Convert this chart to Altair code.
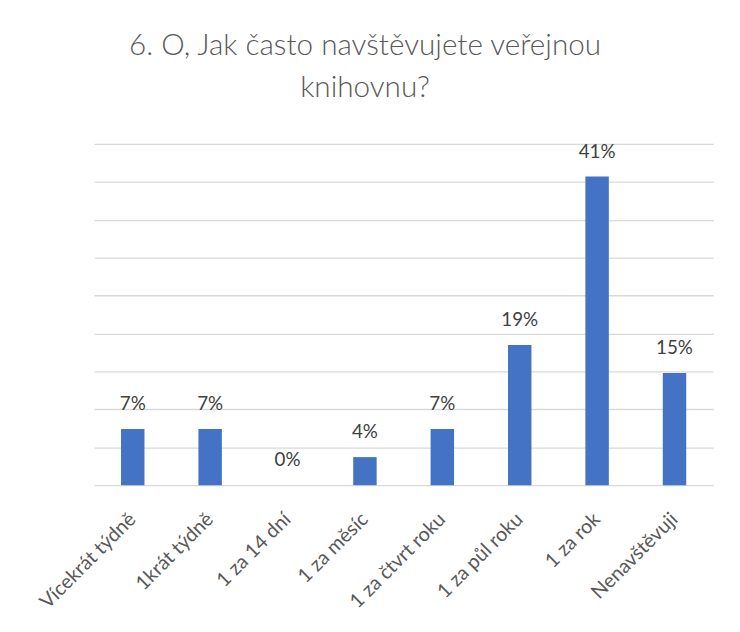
import altair as alt
import pandas as pd

categories = ["Vícekrát týdně", "1krát týdně", "1 za 14 dní", "1 za měsíc",
              "1 za čtvrt roku", "1 za půl roku", "1 za rok", "Nenavštěvuji"]
values = [7.4, 7.4, 0.0, 3.7, 7.4, 18.5, 40.7, 14.8]
labels = ["7%", "7%", "0%", "4%", "7%", "19%", "41%", "15%"]
grid_values = [0, 5, 10, 15, 20, 25, 30, 35, 40, 45]

df = pd.DataFrame({"cat": categories, "val": values, "lab": labels})

FONT = "Lato"
TXT = "#595959"

x = alt.X("cat:N", sort=categories, title=None,
          scale=alt.Scale(paddingInner=0.697, paddingOuter=0.3485),
          axis=alt.Axis(labelAngle=-45, labelFontSize=20, labelColor=TXT,
                        labelFont=FONT, ticks=False, domain=False, labelPadding=24,
                        labelOffset=-7))
y = alt.Y("val:Q", title=None, scale=alt.Scale(domain=[0, 45], nice=False),
          axis=alt.Axis(values=grid_values, labels=False,
                        ticks=False, domain=False, grid=True, gridColor="#D9D9D9",
                        gridWidth=1.3))

bars = alt.Chart(df).mark_bar(color="#4472C4").encode(x=x, y=y)
text = alt.Chart(df).mark_text(dy=-19, baseline="alphabetic", fontSize=19,
                               font=FONT, color="#404040").encode(
    x=x, y=y, text="lab:N")

chart = (bars + text).properties(
    width=626, height=345,
    title=alt.TitleParams(["6. O, Jak často navštěvujete veřejnou", "knihovnu?"],
                          anchor="middle", dx=-39, fontSize=30, font=FONT,
                          fontWeight=300, color=TXT, lineHeight=43, offset=40),
    autosize=alt.AutoSizeParams(type="none"),
    padding={"left": 87, "top": 134, "right": 19, "bottom": 145},
).configure_view(stroke=None)

chart.save("out.html", embed_options={"renderer": "svg", "actions": False})
